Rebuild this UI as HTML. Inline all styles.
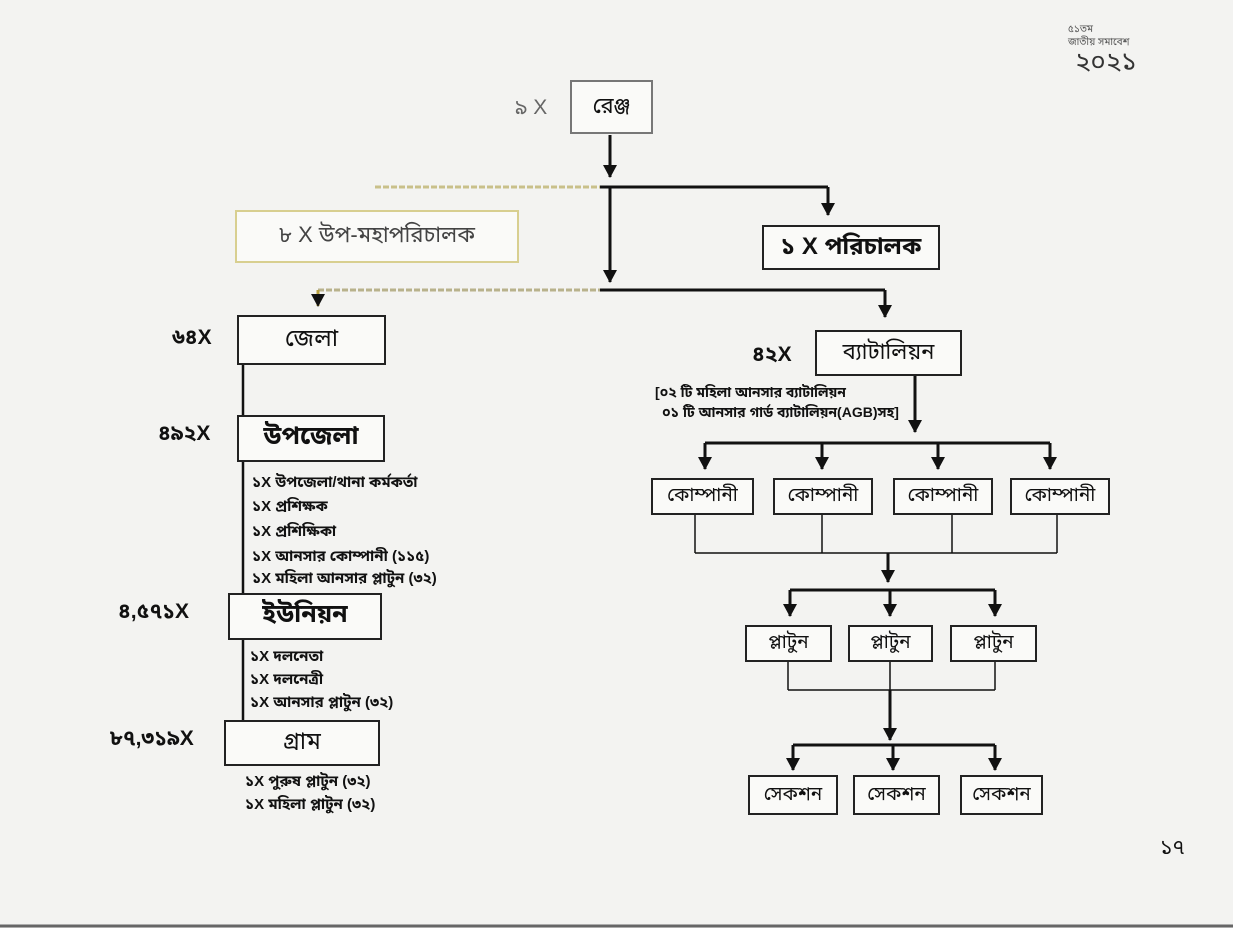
<!DOCTYPE html>
<html><head><meta charset="utf-8">
<style>
body{margin:0;width:1233px;height:928px;background:#f3f3f1;position:relative;overflow:hidden;font-family:"Liberation Sans","Noto Sans Bengali","Lohit Bengali",sans-serif;color:#111}
.b{position:absolute;border:2px solid #222;background:#fafaf8;display:flex;align-items:center;justify-content:center;box-sizing:border-box;font-size:22px}
.t{position:absolute;font-size:21px;white-space:nowrap}
.s{position:absolute;font-size:15px;white-space:nowrap;font-weight:bold}
svg{position:absolute;left:0;top:0}
</style></head><body>
<svg width="1233" height="928">
<defs><marker id="a" markerWidth="14" markerHeight="14" refX="12" refY="7" orient="auto" markerUnits="userSpaceOnUse"><path d="M0,0 L13,7 L0,14 Z" fill="#111"/></marker></defs>
<g stroke="#111" stroke-width="3" fill="none">
<line x1="610" y1="135" x2="610" y2="177" marker-end="url(#a)"/>
<line x1="375" y1="187" x2="600" y2="187" stroke="#c9c08a" stroke-dasharray="6 2"/>
<line x1="600" y1="187" x2="828" y2="187"/>
<line x1="828" y1="187" x2="828" y2="215" marker-end="url(#a)"/>
<line x1="610" y1="187" x2="610" y2="282" marker-end="url(#a)"/>
<line x1="318" y1="290" x2="600" y2="290" stroke="#b8b28c" stroke-dasharray="6 2"/>
<line x1="600" y1="290" x2="885" y2="290"/>
<line x1="885" y1="290" x2="885" y2="317" marker-end="url(#a)"/>
<line x1="318" y1="290" x2="318" y2="306" stroke="#b8a040" marker-end="url(#a)"/>
<line x1="243" y1="365" x2="243" y2="730" stroke-width="2.5"/>
<line x1="915" y1="376" x2="915" y2="432" marker-end="url(#a)"/>
<line x1="705" y1="443" x2="1050" y2="443"/>
<line x1="705" y1="443" x2="705" y2="469" marker-end="url(#a)"/>
<line x1="822" y1="443" x2="822" y2="469" marker-end="url(#a)"/>
<line x1="938" y1="443" x2="938" y2="469" marker-end="url(#a)"/>
<line x1="1050" y1="443" x2="1050" y2="469" marker-end="url(#a)"/>
<g stroke-width="1.5"><line x1="695" y1="515" x2="695" y2="553"/><line x1="822" y1="515" x2="822" y2="553"/><line x1="952" y1="515" x2="952" y2="553"/><line x1="1057" y1="515" x2="1057" y2="553"/><line x1="695" y1="553" x2="1057" y2="553"/>
<line x1="788" y1="662" x2="788" y2="690"/><line x1="890" y1="662" x2="890" y2="690"/><line x1="995" y1="662" x2="995" y2="690"/><line x1="788" y1="690" x2="995" y2="690"/></g>
<line x1="888" y1="553" x2="888" y2="582" marker-end="url(#a)"/>
<line x1="790" y1="590" x2="995" y2="590"/>
<line x1="790" y1="590" x2="790" y2="616" marker-end="url(#a)"/>
<line x1="890" y1="590" x2="890" y2="616" marker-end="url(#a)"/>
<line x1="995" y1="590" x2="995" y2="616" marker-end="url(#a)"/>
<line x1="890" y1="690" x2="890" y2="740" marker-end="url(#a)"/>
<line x1="793" y1="745" x2="995" y2="745"/>
<line x1="793" y1="745" x2="793" y2="770" marker-end="url(#a)"/>
<line x1="893" y1="745" x2="893" y2="770" marker-end="url(#a)"/>
<line x1="995" y1="745" x2="995" y2="770" marker-end="url(#a)"/>
<line x1="0" y1="926" x2="1233" y2="926" stroke="#666" stroke-width="3"/>
</g></svg>
<div class="t" style="left:1068px;top:24px;font-size:10px;color:#555">৫১তম<br>জাতীয় সমাবেশ</div>
<div class="t" style="left:1075px;top:46px;font-size:26px;color:#333">২০২১</div>
<div class="t" style="left:515px;top:95px;color:#666">৯ X</div>
<div class="b" style="left:570px;top:80px;width:83px;height:54px;border-color:#777">রেঞ্জ</div>
<div class="b" style="left:235px;top:210px;width:284px;height:53px;border-color:#d8cf90;color:#444">৮ X উপ-মহাপরিচালক</div>
<div class="b" style="left:762px;top:225px;width:178px;height:45px;font-size:24px;font-weight:bold">১ X পরিচালক</div>
<div class="t" style="left:172px;top:325px;font-weight:bold">৬৪X</div>
<div class="b" style="left:237px;top:315px;width:149px;height:50px;font-size:24px">জেলা</div>
<div class="t" style="left:158px;top:421px;font-weight:bold">৪৯২X</div>
<div class="b" style="left:237px;top:415px;width:148px;height:47px;font-size:25px;font-weight:bold">উপজেলা</div>
<div class="s" style="left:252px;top:474px">১X উপজেলা/থানা কর্মকর্তা</div>
<div class="s" style="left:252px;top:498px">১X প্রশিক্ষক</div>
<div class="s" style="left:252px;top:523px">১X প্রশিক্ষিকা</div>
<div class="s" style="left:252px;top:548px">১X আনসার কোম্পানী (১১৫)</div>
<div class="s" style="left:252px;top:570px">১X মহিলা আনসার প্লাটুন (৩২)</div>
<div class="t" style="left:118px;top:599px;font-weight:bold">৪,৫৭১X</div>
<div class="b" style="left:228px;top:593px;width:154px;height:47px;font-size:25px;font-weight:bold">ইউনিয়ন</div>
<div class="s" style="left:250px;top:648px">১X দলনেতা</div>
<div class="s" style="left:250px;top:671px">১X দলনেত্রী</div>
<div class="s" style="left:250px;top:694px">১X আনসার প্লাটুন (৩২)</div>
<div class="t" style="left:110px;top:726px;font-weight:bold">৮৭,৩১৯X</div>
<div class="b" style="left:224px;top:720px;width:156px;height:46px;font-size:24px">গ্রাম</div>
<div class="s" style="left:245px;top:773px">১X পুরুষ প্লাটুন (৩২)</div>
<div class="s" style="left:245px;top:796px">১X মহিলা প্লাটুন (৩২)</div>
<div class="t" style="left:752px;top:342px;font-weight:bold">৪২X</div>
<div class="b" style="left:815px;top:330px;width:147px;height:46px">ব্যাটালিয়ন</div>
<div class="s" style="left:655px;top:384px;font-size:14px">[০২ টি মহিলা আনসার ব্যাটালিয়ন</div>
<div class="s" style="left:662px;top:404px;font-size:14px">০১ টি আনসার গার্ড ব্যাটালিয়ন(AGB)সহ]</div>
<div class="b" style="left:651px;top:478px;width:103px;height:37px;font-size:19px">কোম্পানী</div>
<div class="b" style="left:773px;top:478px;width:100px;height:37px;font-size:19px">কোম্পানী</div>
<div class="b" style="left:893px;top:478px;width:100px;height:37px;font-size:19px">কোম্পানী</div>
<div class="b" style="left:1010px;top:478px;width:100px;height:37px;font-size:19px">কোম্পানী</div>
<div class="b" style="left:745px;top:625px;width:87px;height:37px;font-size:19px">প্লাটুন</div>
<div class="b" style="left:848px;top:625px;width:85px;height:37px;font-size:19px">প্লাটুন</div>
<div class="b" style="left:950px;top:625px;width:87px;height:37px;font-size:19px">প্লাটুন</div>
<div class="b" style="left:748px;top:775px;width:90px;height:40px;font-size:19px">সেকশন</div>
<div class="b" style="left:853px;top:775px;width:87px;height:40px;font-size:19px">সেকশন</div>
<div class="b" style="left:960px;top:775px;width:83px;height:40px;font-size:19px">সেকশন</div>
<div class="t" style="left:1160px;top:835px">১৭</div>
</body></html>
